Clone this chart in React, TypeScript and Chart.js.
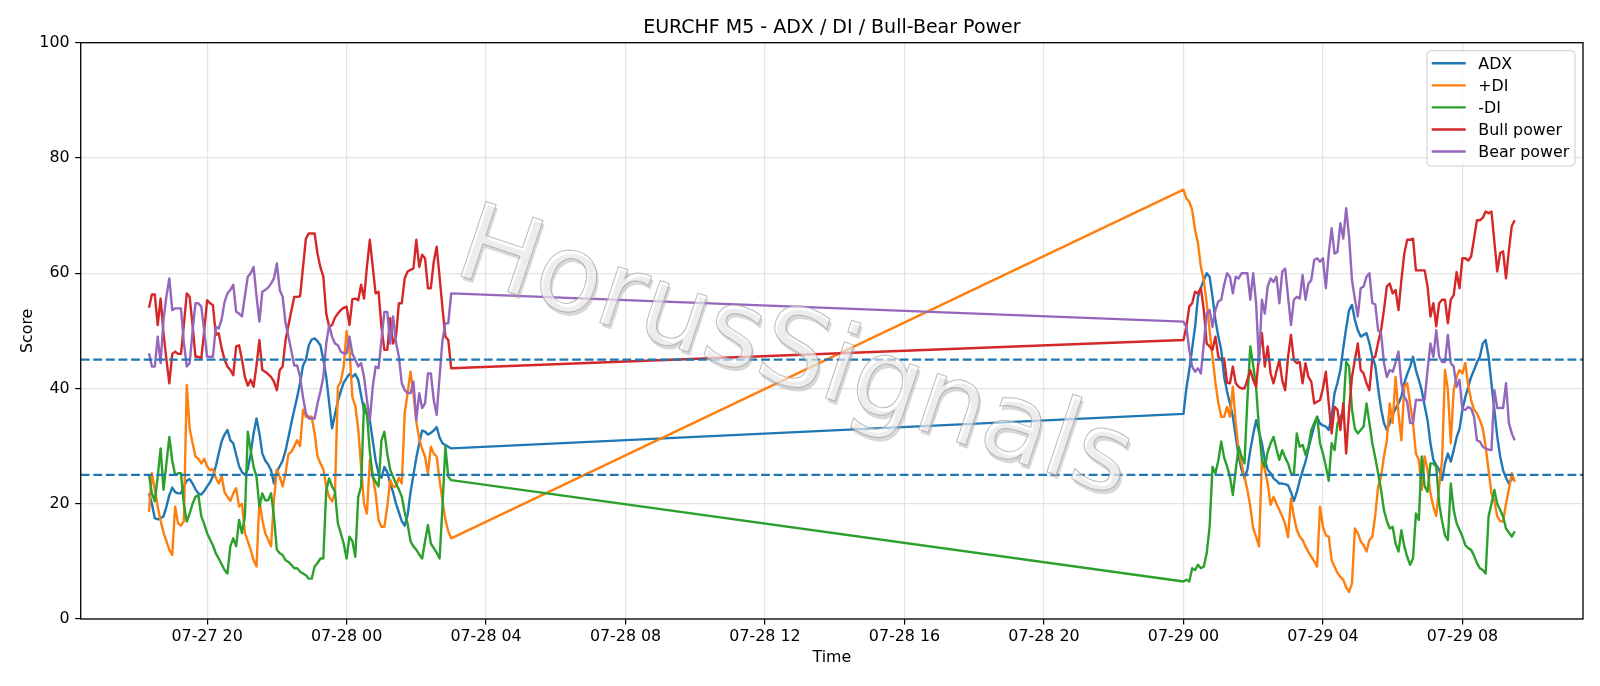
import React, { useEffect, useRef } from "react";
import { Chart, registerables } from "chart.js";

Chart.register(...registerables);

const TITLE = "EURCHF M5 - ADX / DI / Bull-Bear Power";
const X_LABEL = "Time";
const Y_LABEL = "Score";
const WATERMARK = "HorusSignals";

// two sessions of 5-minute bars
const SEG_A_START = "07-27 18:20";
const SEG_B_START = "07-29 00:00";
const STEP_MINUTES = 5;

const TICK_LABELS = [
  "07-27 20", "07-28 00", "07-28 04", "07-28 08", "07-28 12",
  "07-28 16", "07-28 20", "07-29 00", "07-29 04", "07-29 08",
];
const Y_TICKS = [0, 20, 40, 60, 80, 100];
const THRESHOLDS = [45, 25];

// ---- ADX ----
const ADX_A = [
  21.8, 20, 17.5, 17.3, 17.5, 17.8, 19.5, 21.5, 22.8, 22, 21.8, 21.8, 23, 24, 24.3, 23.5, 22.5, 21.8, 21.6, 22.2,
  23, 23.7, 24.8, 26.5, 28.7, 30.8, 32, 32.8, 31, 30.5, 28.5, 26.5, 25.5, 25, 26,
  28.7, 32.2, 34.8, 32.2, 28.7, 27.5, 26.8, 25.8, 23.5, 25.6, 26.5, 27.5, 29.2, 31.6, 34, 36.3, 38.5, 41, 44, 45,
  47.5, 48.5, 48.7, 48.2, 47.5, 45, 42, 37.5, 33.1, 35.5, 37.8, 39.5, 41, 41.8, 42.5,
  42, 42.5, 41.5, 38.8, 36.2, 35.5, 34.5, 31, 27.5, 25.3, 24.5, 26.4, 25.5, 23.5, 22, 20, 18.5, 17, 16.2, 18,
  22, 25, 28, 30.5, 32.7, 32.5, 32, 32.3, 32.7, 33.3, 31.5, 30.5, 30.2, 29.9, 29.6,
];
const ADX_B = [
  35.6, 40, 43.2, 47, 50.7, 55.9, 57.5, 58.8, 60, 59.4, 55.9, 51.9, 49, 46.7, 42, 39.5, 37.4, 35.1, 31.6, 28.2,
  25.9, 24.4, 25.9, 29.3, 32, 34.5, 32.5, 30.5, 27.6, 25.9, 25.3, 24.4, 24, 23.5,
  23.5, 23.4, 23.2, 22, 20.5, 22, 24, 25.7, 27.3, 29.5, 31.6, 33.5, 35.1, 33.9, 33.6, 33.4, 32.8, 35.1, 39.2, 41,
  43.2, 47, 50.5, 53.6, 54.5, 51.9, 50.1, 49, 49.3, 49.6, 47.8, 45.5,
  44, 40, 36.5, 34, 32.8, 34, 35.5, 36.5, 37.4, 38.6, 40.9, 42.5, 43.8, 45.5, 43.2, 41.5, 39.7, 37, 34.5, 30.5,
  27.6, 26.7, 25.9, 24.1, 27, 28.7, 27.3, 29.3, 31.5, 33, 36.3, 38.5, 40.3, 42, 43.2, 44.5, 45.5,
  47.8, 48.4, 45.5, 40.9, 36.3, 31.6, 28.2, 25.8, 24.5, 23.5, 24.4, 24.1,
];

// ---- +DI ----
const PDI_A = [
  18.6, 25.3, 22.5, 19.5, 17, 15, 13.5, 12, 11.1, 19.5, 16.6, 16.2, 17, 40.6, 33, 30.5, 28.2, 27.8, 27, 27.8,
  26.5, 25.8, 26, 24.5, 23.5, 24.8, 22, 21.2, 20.5, 21.8, 22.7, 19.5, 20, 15, 13.5,
  12, 10.2, 9.1, 20.6, 17.2, 14.9, 13.8, 12.6, 20.6, 25.9, 24.7, 23, 25.3, 28.6, 29, 30, 31, 30, 36.3, 35.1,
  35.1, 35.1, 32.2, 28.2, 27, 26, 23, 21.2, 20.4, 21.8, 40.3, 41.2, 43.8, 50, 46.7,
  38.5, 37, 33, 26.4, 20, 18.3, 27.6, 24.7, 21.8, 17.2, 16, 16, 19.5, 24.1, 23, 23, 24.5, 23.5, 35.7, 39.2,
  42.9, 39.2, 34.2, 31.3, 29.5, 28.2, 25.3, 29.9, 28.7, 28.2, 24.1, 20.5, 17.2, 15.2, 14,
];
const PDI_B = [
  74.5, 73, 72.4, 71, 67.5, 65.2, 61.1, 58.8, 54.8, 50.1, 45.5, 41, 37.5, 35.1, 35.1, 36.8, 35.1, 40.3, 34, 29.3,
  27, 24.7, 22.4, 19.5, 15.7, 14.3, 12.6, 27.6, 25.9, 23.5, 19.8, 21.2, 20, 18.9,
  17.8, 16.5, 14.2, 20.9, 17.8, 15.5, 14.3, 13.7, 12.6, 11.6, 10.8, 10, 9.1, 19.5, 16, 14.5, 14.3, 10.2, 9.1, 8,
  7.3, 6.8, 5.5, 4.7, 6.2, 15.7, 14.9, 13.5, 12.8, 11.7, 13.7, 14.3,
  18, 23, 24.7, 28.2, 31, 37.4, 34, 42, 35.7, 31, 40.3, 40.9, 37.4, 34, 28.7, 27.6, 22.4, 28.2, 25.9, 21.8,
  19.5, 17.9, 23, 27.6, 43.2, 39.7, 30.5, 39.7, 42, 43.2, 42.6, 44.4, 40.5, 38, 36.3, 35.7, 34.5,
  33.1, 29.9, 25.9, 21.8, 20.5, 17.8, 17, 16.9, 20, 22.5, 25.3, 23.8,
];

// ---- -DI ----
const MDI_A = [
  25, 21.8, 20.4, 24.7, 29.6, 22.4, 27, 31.6, 27.5, 25, 25.3, 25.3, 20, 16.9, 18.3, 20, 21.2, 21.5, 17.8, 16.5,
  14.9, 13.8, 12.8, 11.4, 10.5, 9.5, 8.5, 7.9, 12.6, 14, 12.6, 17.2, 14.9, 17.8, 32.5,
  29.3, 26.4, 24.7, 19.5, 21.8, 20.6, 20.6, 21.8, 17.8, 12, 11.4, 11.1, 10.2, 9.9, 9.4, 8.8, 8.8, 8.2, 7.9, 7.6,
  7, 7, 9.1, 9.7, 10.5, 10.5, 22.4, 24.4, 23, 22.1, 16.6, 14.9, 13.1, 10.5, 14.3,
  13.5, 10.8, 21.2, 23, 37.4, 35.7, 29, 24.7, 23.8, 23, 31, 32.5, 28.7, 25.9, 24.7, 23.5, 22.5, 21.2, 18.5, 16.5,
  13.5, 12.6, 12, 11.2, 10.5, 13.5, 16.3, 13.1, 12.3, 11.5, 10.5, 19.5, 29.9, 24.7, 24.1,
];
const MDI_B = [
  6.5, 6.8, 6.5, 8.8, 8.5, 9.4, 8.8, 9.1, 11.4, 16, 26.4, 25.3, 27.5, 30.8, 28, 26.5, 24.7, 21.5, 25.9, 29.9,
  28.2, 27, 38, 47.3, 44, 40.3, 33, 27.6, 26.4, 29, 30.5, 31.6, 29.5, 27.6,
  29.3, 28, 27, 25.3, 25, 32.2, 29.9, 30.2, 28.5, 29.9, 32.8, 34, 35.1, 30.5, 28.7, 26.5, 24, 30.5, 29.3, 33.9,
  35.1, 36, 44.6, 43.8, 36.3, 33, 32.2, 32.8, 33.4, 37.4, 34, 30.5,
  28, 25.3, 22.4, 18.9, 17, 15.7, 16, 13.1, 11.7, 15.4, 12.6, 10.8, 9.4, 10.5, 18.3, 17.2, 28.2, 23, 22.1, 27,
  27, 26.4, 20, 17, 14.5, 13.7, 23.5, 18.9, 16.6, 15.5, 14.3, 12.8, 12.3, 12, 11, 9.7, 8.8,
  8.5, 7.9, 17.8, 20, 22.4, 20, 18.9, 17.8, 15.7, 15, 14.3, 15.2,
];

// ---- Bull power ----
const BULL_A = [
  54, 56.3, 56.3, 51, 55.6, 49.6, 45, 40.9, 46, 46.4, 46, 46, 51, 56.5, 55.9, 51, 45.5, 45.5, 45.2, 50,
  55.3, 54.8, 54.5, 49.3, 49.6, 47, 45, 43.8, 43.2, 42.3, 47.3, 47.5, 45, 42, 40.5,
  41.5, 40.3, 44, 48.4, 43.2, 42.9, 42.5, 42, 41.2, 39.7, 43.2, 43.8, 48.4, 51, 53.5, 55.9, 55.9, 56, 61, 66,
  66.9, 66.9, 66.9, 63.4, 61, 59.4, 53, 50.7, 51, 52.3, 53, 53.6, 54, 54.2, 51,
  55.5, 55.6, 55.3, 58, 55.6, 61.1, 65.8, 61.1, 56.5, 56.8, 50.7, 46.7, 46.7, 52.2, 47.8, 49, 54.8, 54.8, 59.1, 60.3,
  60.6, 60.8, 65.8, 61.1, 63.2, 62.6, 57.4, 57.4, 62, 64.6, 59.4, 54, 49, 48.4, 43.5,
];
const BULL_B = [
  48.4, 50.7, 54.2, 54.8, 56.8, 56.5, 57.4, 53.6, 47.8, 47.3, 46.7, 49, 45.5, 44.9, 45.2, 41, 40.9, 43.8, 40.9, 40.3,
  40, 40, 41.5, 43.2, 41.5, 40.3, 45.8, 49.6, 43.8, 47.3, 42.6, 40.9, 43, 44.9,
  41.4, 39.7, 45.5, 49.3, 44.9, 44.4, 44.6, 40.9, 44.4, 42, 41.2, 37.4, 37.7, 38, 40, 42.9, 37.4, 32.2, 36.8, 36.3,
  32.8, 37.4, 28.7, 36.3, 42, 45, 47.8, 43.2, 42.6, 40.9, 39.7, 45.2,
  45.5, 48, 50.1, 53.6, 57.7, 58.2, 56.5, 57.1, 53.6, 58.8, 63.4, 65.8, 65.8, 66, 60.5, 60.5, 60.5, 60.5, 57.7, 52.5,
  54.8, 50.8, 54.8, 55.4, 55.4, 51.3, 55.4, 56.2, 60.2, 57.4, 62.6, 62.6, 62.2, 62.9, 66, 69.2, 69.2,
  69.6, 70.7, 70.4, 70.7, 65.5, 60.3, 63.5, 63.8, 59.1, 64, 68.2, 69.2,
];

// ---- Bear power ----
const BEAR_A = [
  46.1, 43.8, 43.8, 49, 44.4, 52, 56, 59.1, 53.6, 53.9, 53.9, 53.9, 48, 43.8, 44.4, 50, 54.8, 54.8, 54.2, 50,
  45.5, 45.5, 45.5, 50.7, 50.4, 52, 55, 56.5, 57.1, 58, 53.3, 53, 52.5, 56, 59.4,
  60, 61.1, 56, 51.6, 56.8, 57.1, 57.5, 58.2, 59.1, 61.7, 57.1, 55.9, 51.3, 49, 46.5, 44, 44, 42, 38.5, 35.7,
  34.8, 34.8, 34.8, 37.4, 39.5, 42, 47.8, 51, 49, 47.8, 47.5, 46.4, 46.1, 46.1, 49,
  46, 45, 43.8, 44.4, 42, 38, 34.5, 40.3, 43.8, 43.5, 48.4, 53.3, 53.3, 47.8, 52.5, 48, 45.5, 40.9, 39.7, 39.2,
  39.2, 41.2, 34.5, 39.2, 36.6, 37.4, 42.6, 42.6, 38, 35.4, 42, 48.4, 51.3, 51.3, 56.5,
];
const BEAR_B = [
  51.6, 50.7, 46.7, 43.8, 42.9, 43.5, 42.6, 47.8, 53, 53.6, 50.7, 53.6, 55.1, 55.4, 58, 60, 59.4, 56.5, 59.4, 59.1,
  60, 60, 60, 55.4, 60, 54.8, 44.4, 55.4, 53, 57.7, 59.1, 58.5, 59.4, 54.8,
  60.3, 60.8, 55.9, 51, 55.4, 55.9, 55.6, 59.7, 55.4, 58.2, 58.8, 62.3, 62.6, 62, 62.6, 57.4, 63.4, 67.8, 63.4, 63.7,
  68.7, 66, 71.3, 66.3, 58.8, 55.5, 52.5, 57.4, 57.7, 59.4, 60, 54.8,
  54.6, 50.1, 49.6, 44.4, 42, 43.2, 42.9, 44.5, 46.4, 40.9, 38.6, 37.7, 34, 34, 38, 38, 38, 38, 43.2, 47.8,
  45.5, 50.1, 45.5, 44.6, 44.6, 49.3, 44.4, 43.8, 40.3, 41.5, 36.3, 36.3, 36.8, 36.5, 35.1, 31, 30.8,
  29.9, 29.6, 29.4, 29.3, 39.7, 36.6, 36.6, 36.6, 40.9, 34, 32.2, 31,
];

const SERIES = [
  { label: "ADX", color: "#1f77b4", a: ADX_A, b: ADX_B },
  { label: "+DI", color: "#ff7f0e", a: PDI_A, b: PDI_B },
  { label: "-DI", color: "#2ca02c", a: MDI_A, b: MDI_B },
  { label: "Bull power", color: "#d62728", a: BULL_A, b: BULL_B },
  { label: "Bear power", color: "#9467bd", a: BEAR_A, b: BEAR_B },
];

// hours since 07-27 00:00
function toHours(s: string): number {
  const [md, hm] = s.split(" ");
  const d = Number(md.split("-")[1]);
  const parts = hm.split(":").map(Number);
  return (d - 27) * 24 + parts[0] + (parts[1] || 0) / 60;
}

const STEP_H = STEP_MINUTES / 60;
const T_A = toHours(SEG_A_START);
const T_B = toHours(SEG_B_START);
const TICK_VALUES = TICK_LABELS.map(toHours);

function buildPoints(a: number[], b: number[]) {
  return [
    ...a.map((v, i) => ({ x: T_A + i * STEP_H, y: v })),
    ...b.map((v, i) => ({ x: T_B + i * STEP_H, y: v })),
  ];
}

const X_FIRST = T_A;
const X_LAST = T_B + (ADX_B.length - 1) * STEP_H;
const X_MARGIN = 0.05 * (X_LAST - X_FIRST);

const FONT_FAMILY = '"DejaVu Sans", "Liberation Sans", sans-serif';
const TICK_FONT = { family: FONT_FAMILY, size: 15.87 };

const decorPlugin = {
  id: "decor",
  afterDatasetsDraw(chart: any) {
    const { ctx, chartArea: a, scales } = chart;
    const ys = scales.y;
    ctx.save();

    // threshold lines
    ctx.strokeStyle = "#1f77b4";
    ctx.lineWidth = 2.3;
    ctx.setLineDash([8.8, 3.8]);
    THRESHOLDS.forEach((t) => {
      const py = ys.getPixelForValue(t);
      ctx.beginPath();
      ctx.moveTo(a.left, py);
      ctx.lineTo(a.right, py);
      ctx.stroke();
    });
    ctx.setLineDash([]);

    // watermark
    const cx = (a.left + a.right) / 2;
    ctx.save();
    ctx.translate(cx - 38, (a.top + a.bottom) / 2 + 27);
    ctx.rotate((18.5 * Math.PI) / 180);
    ctx.font = `108px ${FONT_FAMILY}`;
    ctx.textAlign = "center";
    ctx.textBaseline = "middle";
    ctx.globalAlpha = 0.45;
    ctx.fillStyle = "#a8a8a8";
    ctx.fillText(WATERMARK, 3, 3);
    ctx.globalAlpha = 0.55;
    ctx.fillStyle = "#ffffff";
    ctx.fillText(WATERMARK, 0, 0);
    ctx.globalAlpha = 0.7;
    ctx.strokeStyle = "#a0a0a0";
    ctx.lineWidth = 1;
    ctx.strokeText(WATERMARK, 0, 0);
    ctx.restore();

    // spines
    ctx.strokeStyle = "#000";
    ctx.lineWidth = 1.3;
    ctx.strokeRect(a.left, a.top, a.right - a.left, a.bottom - a.top);

    // legend
    const bw = 148;
    const bh = 115.3;
    const bx = a.right - 8 - bw;
    const by = a.top + 8;
    const r = 4;
    ctx.beginPath();
    ctx.moveTo(bx + r, by);
    ctx.lineTo(bx + bw - r, by);
    ctx.arcTo(bx + bw, by, bx + bw, by + r, r);
    ctx.lineTo(bx + bw, by + bh - r);
    ctx.arcTo(bx + bw, by + bh, bx + bw - r, by + bh, r);
    ctx.lineTo(bx + r, by + bh);
    ctx.arcTo(bx, by + bh, bx, by + bh - r, r);
    ctx.lineTo(bx, by + r);
    ctx.arcTo(bx, by, bx + r, by, r);
    ctx.closePath();
    ctx.fillStyle = "rgba(255,255,255,0.8)";
    ctx.fill();
    ctx.strokeStyle = "#cccccc";
    ctx.lineWidth = 1;
    ctx.stroke();

    ctx.font = `15.87px ${FONT_FAMILY}`;
    ctx.textAlign = "left";
    ctx.textBaseline = "alphabetic";
    SERIES.forEach((s, i) => {
      const cy = by + 12.6 + i * 22.05;
      ctx.strokeStyle = s.color;
      ctx.lineWidth = 2.4;
      ctx.beginPath();
      ctx.moveTo(bx + 4.7, cy);
      ctx.lineTo(bx + 38.7, cy);
      ctx.stroke();
      ctx.fillStyle = "#000";
      ctx.fillText(s.label, bx + 51.3, cy + 5.8);
    });

    // title and axis labels
    ctx.fillStyle = "#000";
    ctx.textAlign = "center";
    ctx.font = `19px ${FONT_FAMILY}`;
    ctx.fillText(TITLE, cx, a.top - 9.5);
    ctx.font = `15.87px ${FONT_FAMILY}`;
    ctx.fillText(X_LABEL, cx, a.bottom + 43.3);
    ctx.save();
    ctx.translate(31.7, (a.top + a.bottom) / 2);
    ctx.rotate(-Math.PI / 2);
    ctx.fillText(Y_LABEL, 0, 0);
    ctx.restore();

    ctx.restore();
  },
};

export default function App() {
  const ref = useRef<HTMLCanvasElement | null>(null);

  useEffect(() => {
    if (!ref.current) return;
    const datasets = SERIES.map((s, i) => ({
      label: s.label,
      data: buildPoints(s.a, s.b),
      borderColor: s.color,
      backgroundColor: s.color,
      borderWidth: 2.4,
      pointRadius: 0,
      pointHoverRadius: 0,
      tension: 0,
      fill: false,
      borderJoinStyle: "round" as const,
      order: SERIES.length - i,
    }));

    const chart = new Chart(ref.current, {
      type: "line",
      data: { datasets },
      options: {
        animation: false,
        responsive: false,
        devicePixelRatio: 1,
        events: [],
        layout: { padding: { top: 42.7, right: 17, bottom: 0, left: 0 } },
        plugins: {
          legend: { display: false },
          title: { display: false },
          tooltip: { enabled: false },
        },
        scales: {
          x: {
            type: "linear",
            min: X_FIRST - X_MARGIN,
            max: X_LAST + X_MARGIN,
            afterBuildTicks: (scale: any) => {
              scale.ticks = TICK_VALUES.map((v) => ({ value: v }));
            },
            afterFit: (scale: any) => {
              scale.height = 67;
            },
            ticks: {
              autoSkip: false,
              maxRotation: 0,
              minRotation: 0,
              color: "#000",
              font: TICK_FONT,
              padding: 3,
              callback: (_v: any, i: number) => TICK_LABELS[i],
            },
            grid: {
              color: "#e4e4e4",
              lineWidth: 1.2,
              tickColor: "#000",
              tickLength: 5.5,
              tickWidth: 1.2,
            },
            border: { display: false },
          },
          y: {
            min: 0,
            max: 100,
            afterBuildTicks: (scale: any) => {
              scale.ticks = Y_TICKS.map((v) => ({ value: v }));
            },
            afterFit: (scale: any) => {
              scale.width = 80.7;
            },
            ticks: {
              color: "#000",
              font: TICK_FONT,
              padding: 5.6,
              callback: (v: any) => String(v),
            },
            grid: {
              color: "#e4e4e4",
              lineWidth: 1.2,
              tickColor: "#000",
              tickLength: 5.5,
              tickWidth: 1.2,
            },
            border: { display: false },
          },
        },
      },
      plugins: [decorPlugin],
    } as any);

    return () => chart.destroy();
  }, []);

  return (
    <div style={{ position: "absolute", left: 0, top: 0, width: 1600, height: 686, background: "#fff" }}>
      <canvas ref={ref} width={1600} height={686} style={{ display: "block", width: 1600, height: 686 }} />
    </div>
  );
}
